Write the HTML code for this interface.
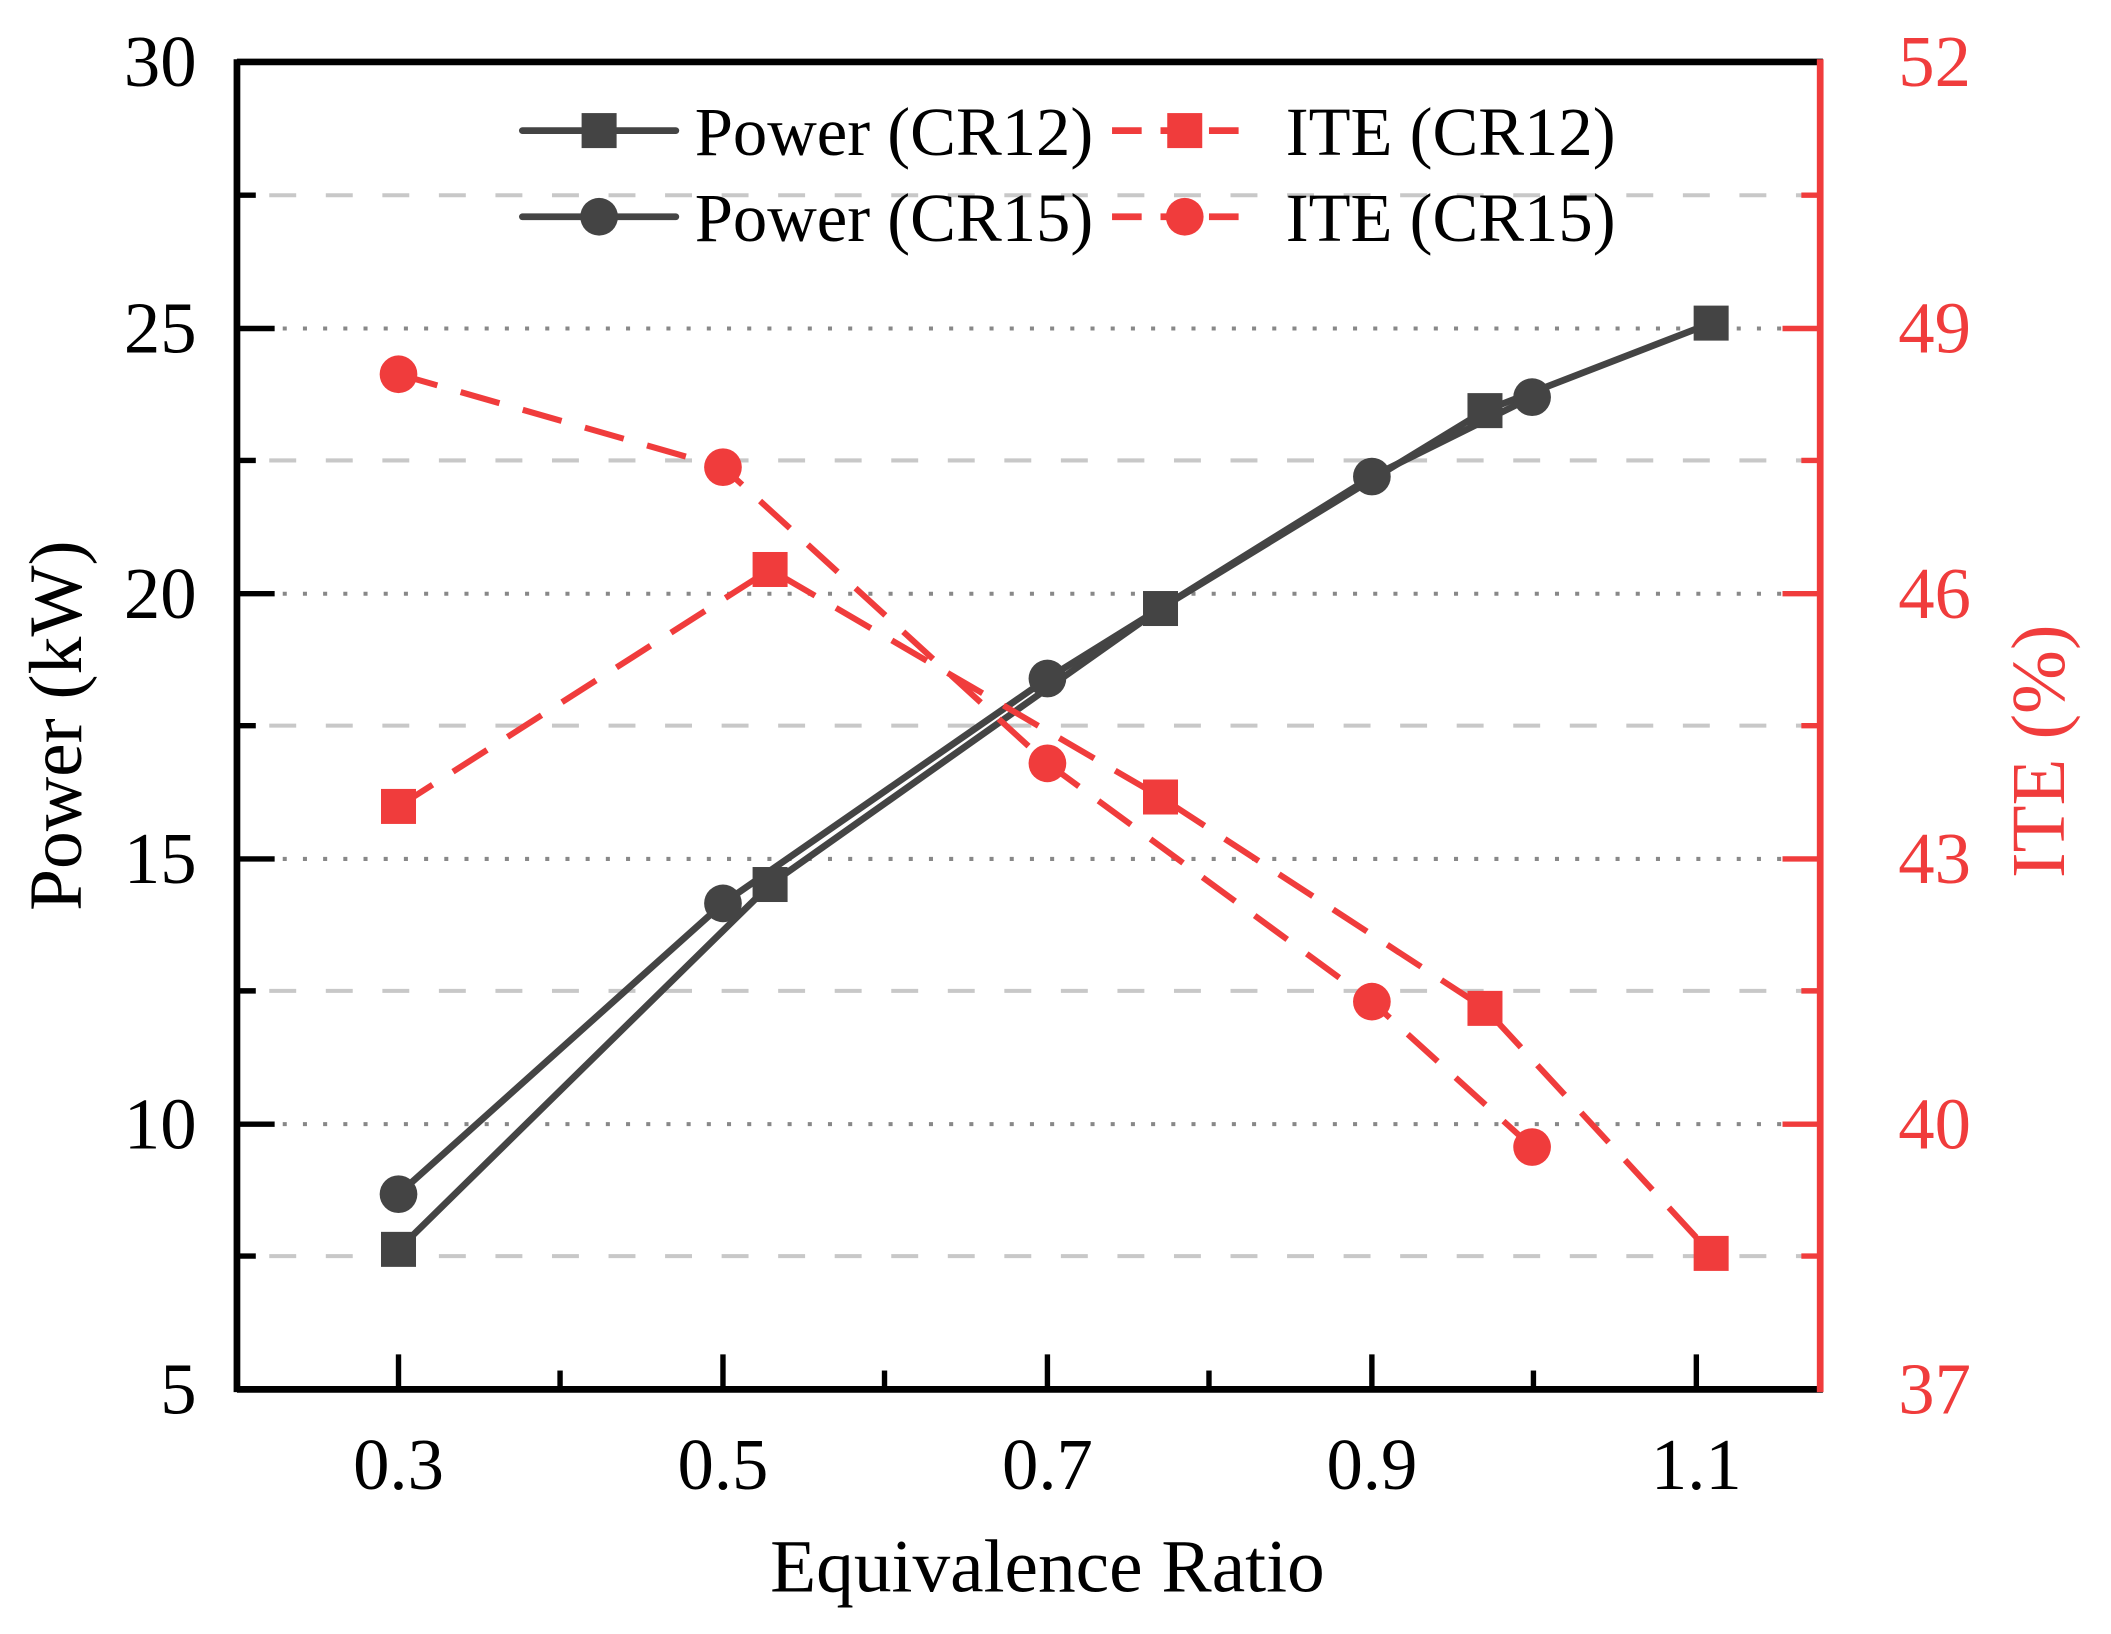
<!DOCTYPE html>
<html><head><meta charset="utf-8"><style>html,body{margin:0;padding:0;background:#fff}svg{display:block}</style></head>
<body>
<svg width="2111" height="1634" viewBox="0 0 1568 1213.7" xmlns="http://www.w3.org/2000/svg" font-family="Liberation Serif, serif">
<rect width="1568" height="1213.7" fill="#fff"/>
<g stroke="#888" stroke-width="3" stroke-dasharray="3,12">
<line x1="180" y1="244" x2="1350" y2="244"/><line x1="180" y1="441" x2="1350" y2="441"/>
<line x1="180" y1="638" x2="1350" y2="638"/><line x1="180" y1="835" x2="1350" y2="835"/>
</g>
<g stroke="#c8c8c8" stroke-width="3" stroke-dasharray="20,22">
<line x1="200" y1="145" x2="1350" y2="145"/><line x1="200" y1="342" x2="1350" y2="342"/>
<line x1="200" y1="539" x2="1350" y2="539"/><line x1="200" y1="736" x2="1350" y2="736"/>
<line x1="200" y1="933" x2="1350" y2="933"/>
</g>
<line x1="176" y1="46" x2="1354" y2="46" stroke="#000" stroke-width="5"/>
<line x1="176" y1="1032" x2="1354" y2="1032" stroke="#000" stroke-width="5"/>
<line x1="176" y1="44" x2="176" y2="1034" stroke="#000" stroke-width="5"/>
<line x1="1352" y1="44" x2="1352" y2="1034" stroke="#f03c3c" stroke-width="5"/>
<g stroke="#000" stroke-width="4">
<line x1="176" y1="244" x2="204" y2="244"/><line x1="176" y1="441" x2="204" y2="441"/><line x1="176" y1="638" x2="204" y2="638"/><line x1="176" y1="835" x2="204" y2="835"/>
<line x1="176" y1="145" x2="190" y2="145"/><line x1="176" y1="342" x2="190" y2="342"/><line x1="176" y1="539" x2="190" y2="539"/><line x1="176" y1="736" x2="190" y2="736"/><line x1="176" y1="933" x2="190" y2="933"/>
</g>
<g stroke="#f03c3c" stroke-width="4">
<line x1="1352" y1="244" x2="1324" y2="244"/><line x1="1352" y1="441" x2="1324" y2="441"/><line x1="1352" y1="638" x2="1324" y2="638"/><line x1="1352" y1="835" x2="1324" y2="835"/>
<line x1="1352" y1="145" x2="1338" y2="145"/><line x1="1352" y1="342" x2="1338" y2="342"/><line x1="1352" y1="539" x2="1338" y2="539"/><line x1="1352" y1="736" x2="1338" y2="736"/><line x1="1352" y1="933" x2="1338" y2="933"/>
</g>
<g stroke="#000" stroke-width="4">
<line x1="296" y1="1032" x2="296" y2="1006"/><line x1="537" y1="1032" x2="537" y2="1006"/><line x1="778" y1="1032" x2="778" y2="1006"/><line x1="1019" y1="1032" x2="1019" y2="1006"/><line x1="1260" y1="1032" x2="1260" y2="1006"/>
<line x1="416" y1="1032" x2="416" y2="1018"/><line x1="657" y1="1032" x2="657" y2="1018"/><line x1="898" y1="1032" x2="898" y2="1018"/><line x1="1139" y1="1032" x2="1139" y2="1018"/>
</g>
<g font-size="54" fill="#000" text-anchor="end">
<text x="146" y="64">30</text><text x="146" y="262">25</text><text x="146" y="459">20</text><text x="146" y="656">15</text><text x="146" y="853">10</text><text x="146" y="1050">5</text>
</g>
<g font-size="54" fill="#f03c3c" text-anchor="start">
<text x="1410" y="64">52</text><text x="1410" y="262">49</text><text x="1410" y="459">46</text><text x="1410" y="656">43</text><text x="1410" y="853">40</text><text x="1410" y="1050">37</text>
</g>
<g font-size="54" fill="#000" text-anchor="middle">
<text x="296" y="1106">0.3</text><text x="537" y="1106">0.5</text><text x="778" y="1106">0.7</text><text x="1019" y="1106">0.9</text><text x="1260" y="1106">1.1</text>
</g>
<text x="778" y="1182" font-size="56" text-anchor="middle">Equivalence Ratio</text>
<text transform="translate(60,539) rotate(-90)" font-size="56" text-anchor="middle">Power (kW)</text>
<text transform="translate(1533,558) rotate(-90)" font-size="57" fill="#f03c3c" text-anchor="middle">ITE (%)</text>
<g fill="none" stroke-linejoin="round">
<polyline points="296,928 572,657 862,452 1103,305 1271,240" stroke="#444" stroke-width="5"/>
<polyline points="296,887 537,671 778,504 1019,354 1138,295" stroke="#444" stroke-width="5"/>
<polyline points="296,599 572,423 862,592 1103,749 1271,931" stroke="#f03c3c" stroke-width="4.5" stroke-dasharray="30,18"/>
<polyline points="296,278 537,347 778,567 1019,744 1138,852" stroke="#f03c3c" stroke-width="4.5" stroke-dasharray="30,18"/>
</g>
<g fill="#444">
<rect x="283" y="915" width="26" height="26"/><rect x="559" y="644" width="26" height="26"/><rect x="849" y="439" width="26" height="26"/><rect x="1090" y="292" width="26" height="26"/><rect x="1258" y="227" width="26" height="26"/>
<circle cx="296" cy="887" r="14"/><circle cx="537" cy="671" r="14"/><circle cx="778" cy="504" r="14"/><circle cx="1019" cy="354" r="14"/><circle cx="1138" cy="295" r="14"/>
</g>
<g fill="#f03c3c">
<rect x="283" y="586" width="26" height="26"/><rect x="559" y="410" width="26" height="26"/><rect x="849" y="579" width="26" height="26"/><rect x="1090" y="736" width="26" height="26"/><rect x="1258" y="918" width="26" height="26"/>
<circle cx="296" cy="278" r="14"/><circle cx="537" cy="347" r="14"/><circle cx="778" cy="567" r="14"/><circle cx="1019" cy="744" r="14"/><circle cx="1138" cy="852" r="14"/>
</g>
<g stroke-width="5" stroke-linecap="round">
<line x1="388" y1="97" x2="502" y2="97" stroke="#444"/>
<line x1="388" y1="161" x2="502" y2="161" stroke="#444"/>
<line x1="826" y1="97" x2="930" y2="97" stroke="#f03c3c" stroke-dasharray="22,14" stroke-linecap="butt"/>
<line x1="826" y1="161" x2="930" y2="161" stroke="#f03c3c" stroke-dasharray="22,14" stroke-linecap="butt"/>
</g>
<rect x="432" y="84" width="26" height="26" fill="#444"/>
<circle cx="445" cy="161" r="14" fill="#444"/>
<rect x="867" y="84" width="26" height="26" fill="#f03c3c"/>
<circle cx="880" cy="161" r="14" fill="#f03c3c"/>
<g font-size="51" fill="#000">
<text x="516" y="115">Power (CR12)</text><text x="516" y="179">Power (CR15)</text>
<text x="955" y="115">ITE (CR12)</text><text x="955" y="179">ITE (CR15)</text>
</g>
</svg>
</body></html>
